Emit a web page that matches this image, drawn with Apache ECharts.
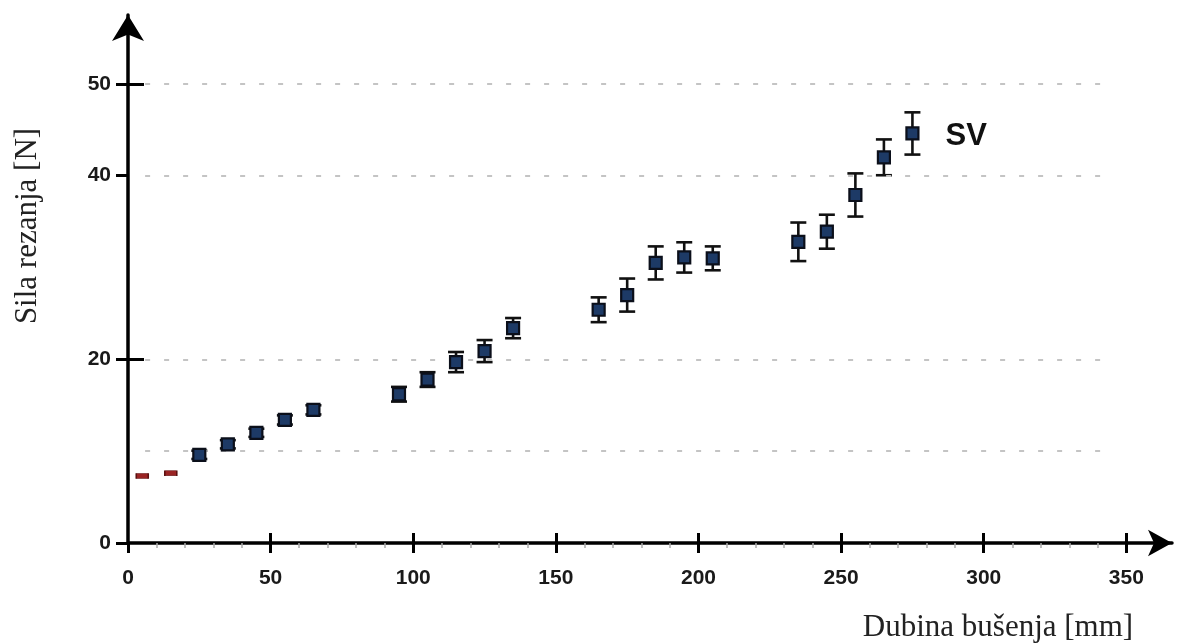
<!DOCTYPE html>
<html>
<head>
<meta charset="utf-8">
<script src="https://cdn.jsdelivr.net/npm/echarts@6/dist/echarts.min.js"></script>
<style>
html,body{margin:0;padding:0;background:#fff;}
#chart{width:1184px;height:644px;}
</style>
</head>
<body>
<div id="chart"></div>
<script>
// ---- data ----
const depth = [5, 15, 25, 35, 45, 55, 65, 95, 105, 115, 125, 135, 165, 175, 185, 195, 205, 235, 245, 255, 265, 275];
const force = [7.3, 7.6, 9.6, 10.75, 12.0, 13.4, 14.5, 16.2, 17.8, 19.7, 20.9, 23.4, 25.4, 27.0, 30.5, 31.1, 31.0, 32.8, 33.9, 37.9, 42.0, 44.6];
const errs  = [0, 0, 0.45, 0.45, 0.45, 0.5, 0.5, 0.8, 0.8, 1.1, 1.2, 1.1, 1.35, 1.8, 1.8, 1.65, 1.3, 2.1, 1.85, 2.35, 1.95, 2.3];
const redCount = 2;               // first points drawn in red
const xTickLabels = [0, 50, 100, 150, 200, 250, 300, 350];
const yTickLabels = [0, 20, 40, 50];
const yInnerTicks = [20, 50];
const gridValues = [10, 20, 40, 50];
const seriesName = 'SV';
const xTitle = 'Dubina bušenja [mm]';
const yTitle = 'Sila rezanja [N]';

// ---- build ----
const redData = [], blueData = [], errData = [];
depth.forEach((d, i) => {
  const p = [d, force[i]];
  if (i < redCount) redData.push(p); else blueData.push(p);
  if (errs[i] > 0) errData.push([d, force[i] - errs[i], force[i] + errs[i]]);
});
const lastIdx = blueData.length - 1;
const blueSeriesData = blueData.map((p, i) => i === lastIdx ? {
  value: p,
  label: {show: true, formatter: seriesName, position: 'right', distance: 26, offset: [0, 3],
          fontFamily: 'Liberation Sans', fontWeight: 'bold', fontSize: 31, color: '#111'}
} : p);

const XMIN = 0, XMAX = 366, YMIN = 0, YMAX = 57.5;
const gridLineData = gridValues.map(v => [{coord: [6, v]}, {coord: [345, v]}]);

const chart = echarts.init(document.getElementById('chart'), null, {renderer: 'canvas'});
const labelFont = {fontFamily: 'Liberation Sans', fontWeight: 'bold', fontSize: 21, color: '#1a1a1a'};

const option = {
  animation: false,
  backgroundColor: '#fff',
  grid: {left: 128, right: 12, top: 15, bottom: 101, containLabel: false},
  xAxis: [{
    type: 'value', min: XMIN, max: XMAX, interval: 50, position: 'bottom',
    axisLine: {show: true, onZero: false, lineStyle: {color: '#000', width: 3.5},
               symbol: ['none', 'arrow'], symbolSize: [20, 24]},
    axisTick: {show: true, customValues: xTickLabels, length: 10, lineStyle: {color: '#000', width: 3}},
    minorTick: {show: true, splitNumber: 5, length: 5, lineStyle: {color: '#aaa', width: 1.5}},
    axisLabel: Object.assign({customValues: xTickLabels, margin: 25}, labelFont),
    splitLine: {show: false}
  }, {
    type: 'value', min: XMIN, max: XMAX, interval: 50, position: 'bottom', offset: 0,
    axisLine: {show: false},
    axisTick: {show: true, inside: true, customValues: xTickLabels.filter(v => v > 0), length: 10, lineStyle: {color: '#000', width: 3}},
    axisLabel: {show: false}, splitLine: {show: false}
  }],
  yAxis: [{
    type: 'value', min: YMIN, max: YMAX, interval: 10, position: 'left',
    axisLine: {show: true, onZero: false, lineStyle: {color: '#000', width: 3.5},
               symbol: ['none', 'arrow'], symbolSize: [24, 26]},
    axisTick: {show: true, customValues: yTickLabels, length: 12, lineStyle: {color: '#000', width: 3}},
    axisLabel: Object.assign({customValues: yTickLabels, margin: 17}, labelFont),
    splitLine: {show: false}
  }, {
    type: 'value', min: YMIN, max: YMAX, interval: 10, position: 'left',
    axisLine: {show: false},
    axisTick: {show: true, inside: true, customValues: yInnerTicks, length: 16, lineStyle: {color: '#000', width: 3}},
    axisLabel: {show: false}, splitLine: {show: false}
  }],
  graphic: [
    {type: 'text', x: 998, y: 628, style: {text: xTitle, font: '31px "Liberation Serif"', fill: '#222', align: 'center', verticalAlign: 'middle'}},
    {type: 'text', x: 28, y: 226, rotation: Math.PI / 2, style: {text: yTitle, font: '31px "Liberation Serif"', fill: '#222', align: 'center', verticalAlign: 'middle'}}
  ],
  series: [
    {
      type: 'scatter', data: [], silent: true, z: 1,
      markLine: {silent: true, symbol: 'none', label: {show: false},
                 lineStyle: {color: '#c4c4c4', width: 2, type: [5, 14]}, data: gridLineData}
    },
    {
      type: 'custom', z: 3, silent: true,
      renderItem: function (params, api) {
        const x = api.value(0);
        const lo = api.coord([x, api.value(1)]);
        const hi = api.coord([x, api.value(2)]);
        const hw = 8;
        const st = {stroke: '#111', lineWidth: 2.6};
        return {type: 'group', children: [
          {type: 'line', shape: {x1: lo[0], y1: lo[1], x2: hi[0], y2: hi[1]}, style: st},
          {type: 'line', shape: {x1: lo[0] - hw, y1: lo[1], x2: lo[0] + hw, y2: lo[1]}, style: st},
          {type: 'line', shape: {x1: hi[0] - hw, y1: hi[1], x2: hi[0] + hw, y2: hi[1]}, style: st}
        ]};
      },
      data: errData
    },
    {
      type: 'scatter', z: 5, symbol: 'rect', symbolSize: 12,
      itemStyle: {color: '#1d3a66', borderColor: '#0b0f1a', borderWidth: 2.2, opacity: 1},
      data: blueSeriesData
    },
    {
      type: 'scatter', z: 5, symbol: 'rect', symbolSize: [12, 5],
      itemStyle: {color: '#9a2424', borderColor: '#5a1010', borderWidth: 1, opacity: 1},
      data: redData
    }
  ]
};
chart.setOption(option);
</script>
</body>
</html>
